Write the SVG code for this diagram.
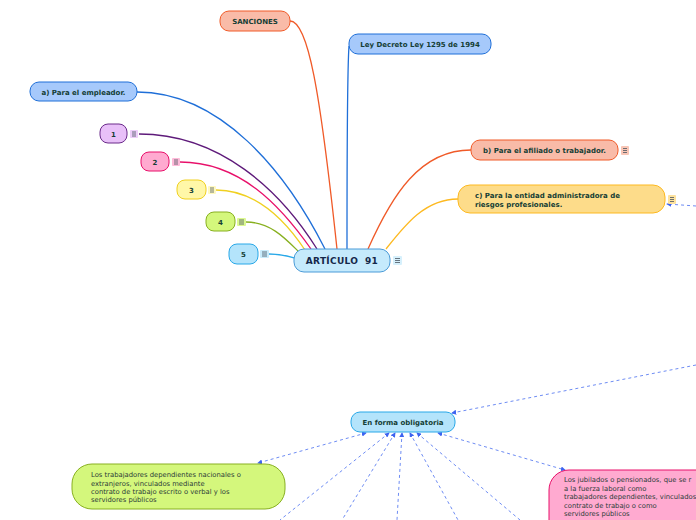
<svg xmlns="http://www.w3.org/2000/svg" width="696" height="520" viewBox="0 0 696 520">
<defs>
<marker id="ah" viewBox="0 0 6 6" refX="5" refY="3" markerWidth="5" markerHeight="5" orient="auto-start-reverse" markerUnits="userSpaceOnUse">
<path d="M0,0 L6,3 L0,6 z" fill="#3d63f0"/>
</marker>
<style>
.lbl{font-family:"DejaVu Sans",Verdana,sans-serif;font-weight:bold;font-size:7px;fill:#153e35}
.txt{font-family:"DejaVu Sans",Verdana,sans-serif;font-size:6.8px;fill:#2b3b38}
.cur{fill:none;stroke-width:1.3}
.dash{fill:none;stroke:#4a6ff0;stroke-opacity:0.8;stroke-width:1;stroke-dasharray:3 3}
.ic line{stroke:#4a5560;stroke-width:0.8}
</style>
</defs>
<rect width="696" height="520" fill="#ffffff"/>
<g id="connectors">
<path class="cur" stroke="#f05a28" d="M290,21 C308,21 320,90 337,249"/>
<path class="cur" stroke="#1f6fd8" d="M349,46 C348,60 347,150 347,249"/>
<path class="cur" stroke="#1f6fd8" d="M137,92 C220,92 285,170 325,249"/>
<path class="cur" stroke="#5e1a7a" d="M139,134 C220,134 280,190 317,249"/>
<path class="cur" stroke="#e8106a" d="M180,162 C240,162 280,205 311,249"/>
<path class="cur" stroke="#f0d020" d="M216,190 C255,190 285,220 305,250"/>
<path class="cur" stroke="#88b020" d="M246,222 C270,222 285,238 299,252"/>
<path class="cur" stroke="#28a8e8" d="M269,254 C280,254 288,256 295,258"/>
<path class="cur" stroke="#f05a28" d="M471,150 C420,150 392,195 368,249"/>
<path class="cur" stroke="#fdb920" d="M458,199 C425,199 405,225 386,249"/>
<path class="dash" marker-end="url(#ah)" d="M696,206 L667,204"/>
<path class="dash" marker-end="url(#ah)" d="M696,365 L452,413"/>
<path class="dash" marker-start="url(#ah)" marker-end="url(#ah)" d="M366,433 L258,463"/>
<path class="dash" marker-start="url(#ah)" marker-end="url(#ah)" d="M438,433 L565,470"/>
<path class="dash" marker-start="url(#ah)" d="M389,433 L280,520"/>
<path class="dash" marker-start="url(#ah)" d="M395,433 L342,520"/>
<path class="dash" marker-start="url(#ah)" d="M402,433 L397,520"/>
<path class="dash" marker-start="url(#ah)" d="M410,433 L458,520"/>
<path class="dash" marker-start="url(#ah)" d="M417,433 L520,520"/>
</g>
<g id="n-articulo">
<rect x="294" y="249" width="96" height="23" rx="10" fill="#c5eafc" stroke="#4a9bd8" stroke-width="1"/>
<text x="342" y="264" text-anchor="middle" font-family="DejaVu Sans,Verdana,sans-serif" font-weight="bold" font-size="9" fill="#15284a" letter-spacing="0.3" style="white-space:pre" xml:space="preserve">ARTÍCULO  91</text>
<g class="ic"><rect x="393" y="256" width="9" height="9" rx="1" fill="#d6f0fc"/><line x1="395" y1="258.5" x2="400" y2="258.5"/><line x1="395" y1="260.5" x2="400" y2="260.5"/><line x1="395" y1="262.5" x2="400" y2="262.5"/></g>
</g>
<g id="n-sanciones">
<rect x="220" y="11" width="70" height="20" rx="9" fill="#f9bba8" stroke="#f05a28"/>
<text class="lbl" x="255" y="23.5" text-anchor="middle">SANCIONES</text>
</g>
<g id="n-ley">
<rect x="349" y="34" width="142" height="20" rx="9" fill="#a6c9fb" stroke="#1f6fd8"/>
<text class="lbl" x="420" y="46.5" text-anchor="middle">Ley Decreto Ley 1295 de 1994</text>
</g>
<g id="n-empleador">
<rect x="30" y="82" width="107" height="19" rx="9" fill="#a6c9fb" stroke="#1f6fd8"/>
<text class="lbl" x="83.5" y="94.5" text-anchor="middle">a) Para el empleador.</text>
</g>
<g id="n-1">
<rect x="100" y="124" width="27" height="19" rx="8" fill="#e8c0f8" stroke="#6a2a8a"/>
<text class="lbl" x="113.5" y="136.5" text-anchor="middle">1</text>
<g class="ic"><rect x="130" y="130" width="8" height="8" rx="1" fill="#eccdf9"/><line x1="132" y1="132" x2="136" y2="132"/><line x1="132" y1="134" x2="136" y2="134"/><line x1="132" y1="136" x2="136" y2="136"/></g>
</g>
<g id="n-2">
<rect x="141" y="152" width="28" height="19" rx="8" fill="#ffaad0" stroke="#e8106a"/>
<text class="lbl" x="155" y="164.5" text-anchor="middle">2</text>
<g class="ic"><rect x="172" y="158" width="8" height="8" rx="1" fill="#ffbad9"/><line x1="174" y1="160" x2="178" y2="160"/><line x1="174" y1="162" x2="178" y2="162"/><line x1="174" y1="164" x2="178" y2="164"/></g>
</g>
<g id="n-3">
<rect x="177" y="180" width="29" height="19" rx="8" fill="#fff7a8" stroke="#f0d020"/>
<text class="lbl" x="191.5" y="192.5" text-anchor="middle">3</text>
<g class="ic"><rect x="208" y="186" width="8" height="8" rx="1" fill="#fff9c0"/><line x1="210" y1="188" x2="214" y2="188"/><line x1="210" y1="190" x2="214" y2="190"/><line x1="210" y1="192" x2="214" y2="192"/></g>
</g>
<g id="n-4">
<rect x="206" y="212" width="29" height="19" rx="8" fill="#d4f77c" stroke="#88b020"/>
<text class="lbl" x="220.5" y="224.5" text-anchor="middle">4</text>
<g class="ic"><rect x="237" y="218" width="9" height="8" rx="1" fill="#dcf992"/><line x1="239" y1="220" x2="244" y2="220"/><line x1="239" y1="222" x2="244" y2="222"/><line x1="239" y1="224" x2="244" y2="224"/></g>
</g>
<g id="n-5">
<rect x="229" y="244" width="29" height="20" rx="8" fill="#b4e4fb" stroke="#28a8e8"/>
<text class="lbl" x="243.5" y="257" text-anchor="middle">5</text>
<g class="ic"><rect x="260" y="250" width="9" height="8" rx="1" fill="#c8ecfc"/><line x1="262" y1="252" x2="267" y2="252"/><line x1="262" y1="254" x2="267" y2="254"/><line x1="262" y1="256" x2="267" y2="256"/></g>
</g>
<g id="n-afiliado">
<rect x="471" y="140" width="147" height="20" rx="9" fill="#f9bba8" stroke="#f05a28"/>
<text class="lbl" x="544.5" y="152.5" text-anchor="middle">b) Para el afiliado o trabajador.</text>
<g class="ic"><rect x="621" y="146" width="8" height="9" rx="1" fill="#f9c6b6"/><line x1="623" y1="148.5" x2="627" y2="148.5"/><line x1="623" y1="150.5" x2="627" y2="150.5"/><line x1="623" y1="152.5" x2="627" y2="152.5"/></g>
</g>
<g id="n-entidad">
<rect x="458" y="185" width="207" height="28" rx="12" fill="#fddc8a" stroke="#fdb920"/>
<text class="lbl" x="475" y="198">c) Para la entidad administradora de</text>
<text class="lbl" x="475" y="207">riesgos profesionales.</text>
<g class="ic"><rect x="668" y="195" width="8" height="9" rx="1" fill="#fde29e"/><line x1="670" y1="197.5" x2="674" y2="197.5"/><line x1="670" y1="199.5" x2="674" y2="199.5"/><line x1="670" y1="201.5" x2="674" y2="201.5"/></g>
</g>
<g id="n-obligatoria">
<rect x="351" y="412" width="104" height="20" rx="9" fill="#b4e4fb" stroke="#28a8e8"/>
<text class="lbl" x="403" y="424.5" text-anchor="middle">En forma obligatoria</text>
</g>
<g id="n-trabajadores">
<rect x="72" y="464" width="213" height="45" rx="20" fill="#d4f77c" stroke="#88b020"/>
<text class="txt" x="91" y="477">Los trabajadores dependientes nacionales o</text>
<text class="txt" x="91" y="485.5">extranjeros, vinculados mediante</text>
<text class="txt" x="91" y="494">contrato de trabajo escrito o verbal y los</text>
<text class="txt" x="91" y="502">servidores públicos</text>
</g>
<g id="n-jubilados">
<rect x="549" y="470" width="180" height="70" rx="20" fill="#ffaad0" stroke="#e8106a"/>
<text class="txt" x="564" y="482">Los jubilados o pensionados, que se r</text>
<text class="txt" x="564" y="490.5">a la fuerza laboral como</text>
<text class="txt" x="564" y="499">trabajadores dependientes, vinculados</text>
<text class="txt" x="564" y="507.5">contrato de trabajo o como</text>
<text class="txt" x="564" y="516">servidores públicos</text>
</g>
</svg>
